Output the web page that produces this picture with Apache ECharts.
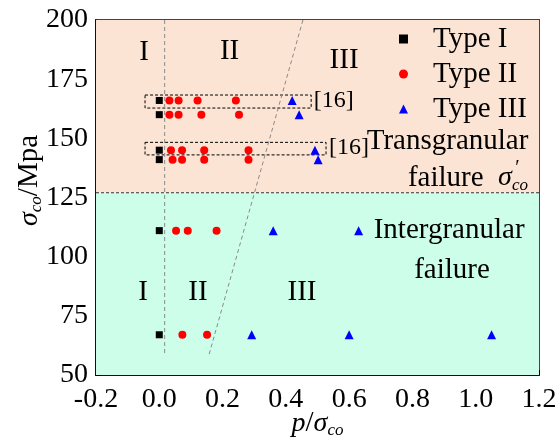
<!DOCTYPE html>
<html><head><meta charset="utf-8">
<script src="https://cdn.jsdelivr.net/npm/echarts@6/dist/echarts.min.js"></script>
<style>html,body{margin:0;padding:0;background:#fff}#c{width:559px;height:441px}</style>
</head><body><div id="c"></div>
<script>
// ---- data ----
const seriesNames = ['Type I', 'Type II', 'Type III'];
const typeI = [[0,166],[0,160],[0,145],[0,141],[0,111],[0,67]];
const typeII = [
  [0.032,166],[0.061,166],[0.121,166],[0.242,166],
  [0.032,160],[0.061,160],[0.133,160],[0.252,160],
  [0.037,145],[0.072,145],[0.142,145],[0.282,145],
  [0.042,141],[0.072,141],[0.142,141],[0.282,141],
  [0.053,111],[0.090,111],[0.181,111],
  [0.073,67],[0.151,67]
];
const typeIII = [
  [0.420,166],[0.442,160],[0.492,145],[0.502,141],
  [0.360,111],[0.630,111],
  [0.292,67],[0.600,67],[1.050,67]
];
const boundaryStress = 127;            // sigma_co'
const lineRegionI = [[0.017,200],[0.017,58.5]];
const lineRegionII = [[0.454,200],[0.157,58.5]];
const refBoxes = [[[-0.045,168.3],[0.48,162.8]], [[-0.045,148.3],[0.527,143.0]]];
const refLabels = [[0.488,165.8,'[16]'], [0.536,146,'[16]']];
const regionLabels = [
  [-0.048,186.5,'I'], [0.222,186.9,'II'], [0.584,183.1,'III'],
  [-0.051,84.7,'I'], [0.122,84.7,'II'], [0.451,84.7,'III']
];
const failureLabels = [
  [0.911,148.5,'Transgranular'],
  [0.916,111.3,'Intergranular'],
  [0.925,94.4,'failure']
];
const xRange = [-0.2, 1.2, 0.2];
const yRange = [50, 200, 25];

// ---- chart ----
const FONT = 'Liberation Serif';
const chart = echarts.init(document.getElementById('c'), null, {renderer:'canvas'});
const [xMin, xMax, xStep] = xRange;
const [yMin, yMax, yStep] = yRange;

function textPoint(p, align, extra) {
  return {
    value: [p[0], p[1]],
    label: Object.assign({
      show: true, position: align === 'left' ? 'right' : (align === 'right' ? 'left' : 'inside'),
      distance: 0, formatter: p[2], color: '#000', fontFamily: FONT, fontSize: 29
    }, extra || {})
  };
}

const annData = []
  .concat(regionLabels.map(p => textPoint(p, 'center')))
  .concat(failureLabels.map(p => textPoint(p, 'center')))
  .concat(refLabels.map(p => textPoint(p, 'left', {fontSize: 24})));

const subRich = {
  it: {fontFamily: FONT, fontStyle: 'italic', fontSize: 28, color: '#000'},
  sub: {fontFamily: FONT, fontStyle: 'italic', fontSize: 17, color: '#000', padding: [14,0,0,0]},
  sup: {fontFamily: FONT, fontSize: 20, color: '#000'},
  n: {fontFamily: FONT, fontSize: 29, color: '#000'}
};

// failure sigma'_co label
annData.push({
  value: [1.165, 133.2],
  label: {show: true, position: 'left', distance: 0,
    formatter: '{n|failure  }{it|σ}{sub|co}', rich: subRich}
});
annData.push({
  value: [1.132, 137.0],
  label: {show: true, position: 'inside', distance: 0, formatter: '{sup|′}', rich: subRich}
});

const option = {
  animation: false,
  backgroundColor: '#fff',
  textStyle: {fontFamily: FONT},
  grid: {left: 96, right: 20, top: 20, bottom: 66, show: true, containLabel: false,
         outerBoundsMode: 'none',
         borderColor: '#444', borderWidth: 2, backgroundColor: 'transparent'},
  legend: {
    data: seriesNames, orient: 'vertical', left: 394, top: 17,
    itemWidth: 9, itemHeight: 9, itemGap: 1,
    textStyle: {fontFamily: FONT, fontSize: 29, color: '#000', lineHeight: 34, padding: [0,0,0,20]}
  },
  xAxis: {
    type: 'value', min: xMin, max: xMax, interval: xStep,
    name: '{it|p}{n|/}{it|σ}{sub|co}', nameLocation: 'middle', nameGap: 33, nameMoveOverlap: false,
    nameTextStyle: {rich: subRich},
    axisLine: {show: true, onZero: false, lineStyle: {color: '#000', width: 1.5}},
    axisTick: {show: true, inside: true, length: 5, lineStyle: {color: '#000'}},
    splitLine: {show: false},
    axisLabel: {fontFamily: FONT, fontSize: 28, color: '#000', margin: 11,
      formatter: v => v.toFixed(1)}
  },
  yAxis: {
    type: 'value', min: yMin, max: yMax, interval: yStep,
    name: '{it|σ}{sub|co}{n|/Mpa}', nameLocation: 'middle', nameGap: 51, nameMoveOverlap: false,
    nameTextStyle: {rich: subRich, padding: [0, 0, 0, 34]},
    axisLine: {show: true, onZero: false, lineStyle: {color: '#000', width: 1.5}},
    axisTick: {show: true, inside: true, length: 5, lineStyle: {color: '#000'}},
    splitLine: {show: false},
    axisLabel: {fontFamily: FONT, fontSize: 28, color: '#000', margin: 8}
  },
  series: [
    {
      type: 'line', data: [], silent: true, z: 0,
      markArea: {silent: true, data: [
        [{coord: [xMin, boundaryStress], itemStyle: {color: '#fce4d4'}}, {coord: [xMax, yMax]}],
        [{coord: [xMin, yMin], itemStyle: {color: '#ccfeea'}}, {coord: [xMax, boundaryStress]}]
      ]}
    },
    {
      type: 'line', data: [[xMin, boundaryStress], [xMax, boundaryStress]], symbol: 'none', silent: true, z: 1,
      lineStyle: {color: '#333', width: 1.2, type: [3, 2]}
    },
    {
      type: 'line', data: lineRegionI, symbol: 'none', silent: true, z: 1,
      lineStyle: {color: '#8a8a8a', width: 1, type: [4, 3]}
    },
    {
      type: 'line', data: lineRegionII, symbol: 'none', silent: true, z: 1,
      lineStyle: {color: '#8a8a8a', width: 1, type: [4, 3]}
    },
    {
      type: 'line', data: [], silent: true, z: 2,
      markArea: {silent: true, data: refBoxes.map(b => [
        {coord: b[0], itemStyle: {color: 'rgba(0,0,0,0)', borderColor: '#000', borderWidth: 1, borderType: [3, 2]}},
        {coord: b[1]}
      ])}
    },
    {name: 'Type I', type: 'scatter', data: typeI, symbol: 'rect', symbolSize: 7, z: 5,
     itemStyle: {color: '#000', opacity: 1}},
    {name: 'Type II', type: 'scatter', data: typeII, symbol: 'circle', symbolSize: 8, z: 5,
     itemStyle: {color: '#ff0000', opacity: 1}},
    {name: 'Type III', type: 'scatter', data: typeIII, symbol: 'triangle', symbolSize: 9, z: 5,
     itemStyle: {color: '#0000ff', opacity: 1}},
    {type: 'scatter', data: annData, symbolSize: 0, silent: true, z: 6,
     itemStyle: {color: 'rgba(0,0,0,0)', opacity: 1}}
  ]
};
chart.setOption(option);
</script></body></html>
